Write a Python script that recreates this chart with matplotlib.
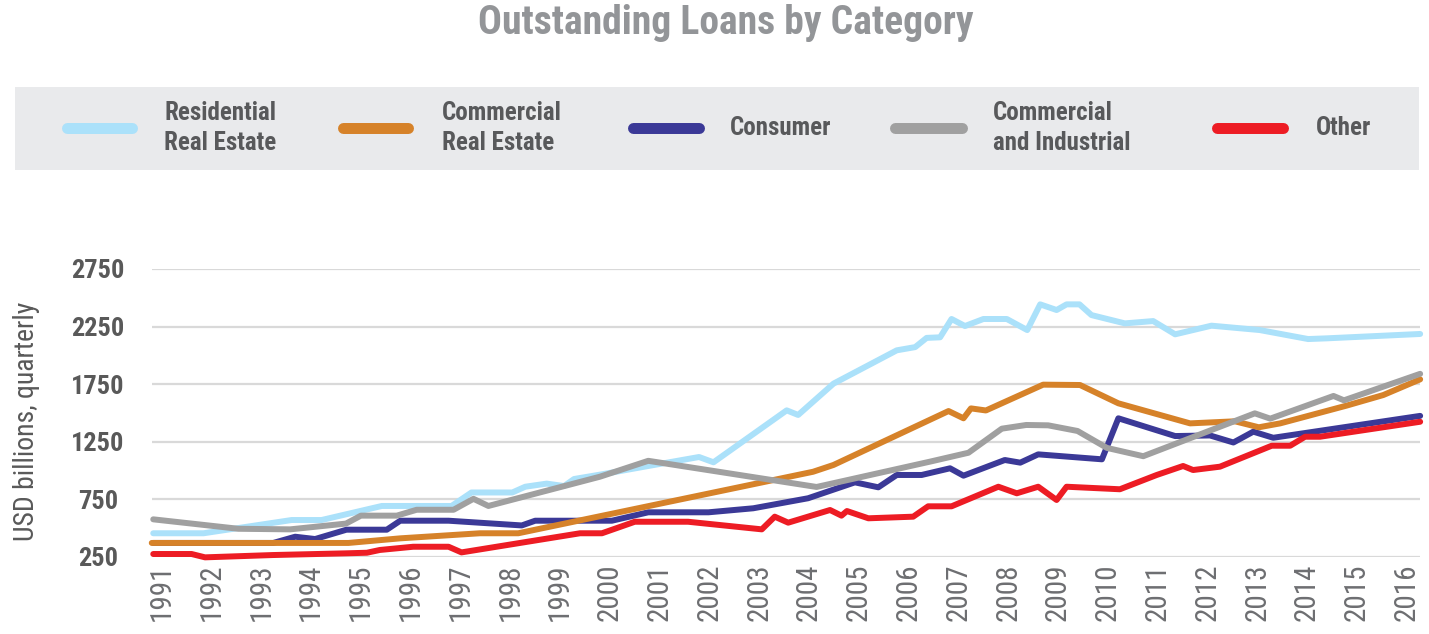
import matplotlib
matplotlib.use("Agg")
import matplotlib.pyplot as plt
from matplotlib.lines import Line2D
from matplotlib.patches import Rectangle

FONT = ['Roboto Condensed', 'Open Sans Condensed', 'Liberation Sans Narrow', 'Roboto', 'DejaVu Sans']
plt.rcParams['font.family'] = FONT
plt.rcParams['font.stretch'] = 'condensed'

# ---------------- data ----------------
title = "Outstanding Loans by Category"
y_label = "USD billions, quarterly"
series_names = ["Residential\nReal Estate", "Commercial\nReal Estate", "Consumer",
                "Commercial\nand Industrial", "Other"]
year_ticks = list(range(1991, 2017))
y_ticks = [250, 750, 1250, 1750, 2250, 2750]

res_x = [1990.83, 1991.84, 1993.61, 1994.21, 1995.42, 1996.82, 1997.22, 1998.04, 1998.30,
         1998.73, 1999.08, 1999.28, 1999.87, 2000.77, 2001.79, 2002.08, 2003.55, 2003.78,
         2004.49, 2005.76, 2006.13, 2006.36, 2006.63, 2006.86, 2007.13, 2007.50, 2007.97,
         2008.38, 2008.64, 2008.97, 2009.17, 2009.43, 2009.67, 2010.34, 2010.91, 2011.35,
         2012.08, 2013.05, 2014.02, 2014.39, 2016.27]
res_y = [456, 456, 571, 571, 693, 693, 810, 810, 860,
         887, 866, 927, 970, 1040, 1118, 1072, 1523, 1483,
         1755, 2044, 2072, 2152, 2157, 2316, 2255, 2316, 2316,
         2220, 2443, 2394, 2443, 2443, 2350, 2278, 2298, 2183,
         2258, 2220, 2142, 2148, 2186]

cre_x = [1990.80, 1994.75, 1995.79, 1997.39, 1998.16, 2004.08, 2004.49, 2006.80, 2007.10,
         2007.25, 2007.55, 2008.70, 2009.44, 2010.21, 2011.65, 2012.55, 2013.03, 2013.46,
         2014.80, 2015.53, 2016.27]
cre_y = [372, 372, 412, 456, 456, 990, 1049, 1517, 1454,
         1540, 1522, 1746, 1743, 1584, 1410, 1428, 1376, 1410,
         1565, 1656, 1792]

con_x = [1990.83, 1993.24, 1993.68, 1994.08, 1994.71, 1995.52, 1995.79, 1996.76, 1998.23,
         1998.50, 2000.04, 2000.77, 2001.98, 2002.88, 2003.98, 2004.92, 2005.39, 2005.76,
         2006.26, 2006.83, 2007.10, 2007.93, 2008.24, 2008.60, 2009.88, 2010.21, 2011.35,
         2012.05, 2012.52, 2012.92, 2013.32, 2016.27]
con_y = [372, 372, 426, 406, 487, 487, 565, 565, 524,
         565, 565, 638, 638, 673, 760, 898, 855, 962,
         962, 1020, 956, 1092, 1069, 1141, 1098, 1454, 1300,
         1305, 1244, 1338, 1285, 1475]

ci_x = [1990.83, 1992.54, 1993.58, 1994.70, 1995.00, 1995.72, 1996.12, 1996.86, 1997.26,
        1997.56, 1999.80, 2000.77, 2004.15, 2006.43, 2007.20, 2007.87, 2008.36, 2008.80,
        2009.39, 2009.98, 2010.71, 2012.95, 2013.26, 2014.53, 2014.74, 2016.27]
ci_y = [577, 495, 490, 540, 609, 609, 660, 660, 755,
        693, 947, 1085, 858, 1078, 1155, 1364, 1396, 1393,
        1344, 1197, 1125, 1497, 1451, 1648, 1610, 1840]

oth_x = [1990.83, 1991.60, 1991.87, 1993.23, 1994.71, 1995.12, 1995.38, 1996.05, 1996.76,
         1997.02, 1999.40, 1999.84, 2000.50, 2001.57, 2003.05, 2003.31, 2003.58, 2004.42,
         2004.65, 2004.76, 2005.19, 2006.09, 2006.39, 2006.86, 2007.80, 2008.17, 2008.60,
         2008.97, 2009.17, 2010.24, 2010.98, 2011.51, 2011.71, 2012.25, 2013.29, 2013.66,
         2013.96, 2014.26, 2016.27]
oth_y = [276, 276, 247, 267, 282, 287, 311, 339, 339,
         290, 456, 456, 556, 556, 490, 600, 548, 658,
         609, 649, 586, 600, 690, 690, 860, 803, 860,
         745, 860, 838, 962, 1040, 1005, 1034, 1216, 1216,
         1294, 1294, 1424]

colors = ["#ABE1FA", "#D68229", "#3B3997", "#A0A0A0", "#ED1C24"]

# ---------------- figure ----------------
W, H = 1429, 634
fig = plt.figure(figsize=(W / 100, H / 100), dpi=100)
fig.patch.set_facecolor("white")

ax_left, ax_right, ax_top, ax_bot = 152, 1420, 269, 557
ax = fig.add_axes([ax_left / W, 1 - ax_bot / H, (ax_right - ax_left) / W, (ax_bot - ax_top) / H])

series = [(res_x, res_y), (cre_x, cre_y), (con_x, con_y), (ci_x, ci_y), (oth_x, oth_y)]
zorders = [3, 5, 4, 6, 7]
for (xs, ys), c, z, name in zip(series, colors, zorders, series_names):
    ax.plot(xs, ys, color=c, lw=4.3, solid_capstyle="round", solid_joinstyle="round",
            zorder=z, clip_on=False, label=name.replace("\n", " "))

ax.set_xlim(1990.805, 2016.267)
ax.set_ylim(250, 2750)
ax.set_yticks(y_ticks)
ax.set_yticklabels([str(v) for v in y_ticks])
ax.set_xticks(year_ticks)
ax.set_xticklabels([str(y) for y in year_ticks], rotation=90)
ax.grid(axis="y", color="#D9D9D9", lw=1.6, zorder=0)
ax.grid(axis="x", visible=False)
for s in ax.spines.values():
    s.set_visible(False)
ax.tick_params(axis="y", length=0, pad=38.9, labelsize=19, labelcolor="#595959")
ax.tick_params(axis="x", length=0, pad=5, labelsize=21, labelcolor="#6D6E71")
for lab in ax.get_yticklabels():
    lab.set_fontweight("bold")
    lab.set_ha("center")
for lab in ax.get_xticklabels():
    lab.set_va("top")
    lab.set_ha("center")

fig.text(27 / W, 1 - 421 / H, y_label, rotation=90, ha="center", va="center",
         fontsize=20, color="#595959")

# title
fig.text(726 / W, 1 - 23 / H, title, ha="center", va="center", fontsize=28.5,
         fontweight="bold", color="#939598")

# legend band
fig.add_artist(Rectangle((15 / W, 1 - 170 / H), (1419 - 15) / W, (170 - 87) / H,
                         transform=fig.transFigure, facecolor="#E9EAEC", edgecolor="none",
                         zorder=0))
handle_x = [(67, 132), (343, 408), (633, 699), (895, 962), (1217, 1283)]
text_x = [164, 442, 730, 993, 1316]
leg_y = 128
for (x0, x1), tx, c, name in zip(handle_x, text_x, colors, series_names):
    fig.add_artist(Line2D([x0 / W, x1 / W], [1 - leg_y / H, 1 - leg_y / H],
                          transform=fig.transFigure, color=c, lw=7.9,
                          solid_capstyle="round", zorder=2))
    fig.text(tx / W, 1 - leg_y / H, name, ha="left", va="center", fontsize=18,
             fontweight="bold", color="#58595B", linespacing=1.35)

fig.savefig("out.png", dpi=100, facecolor="white")
